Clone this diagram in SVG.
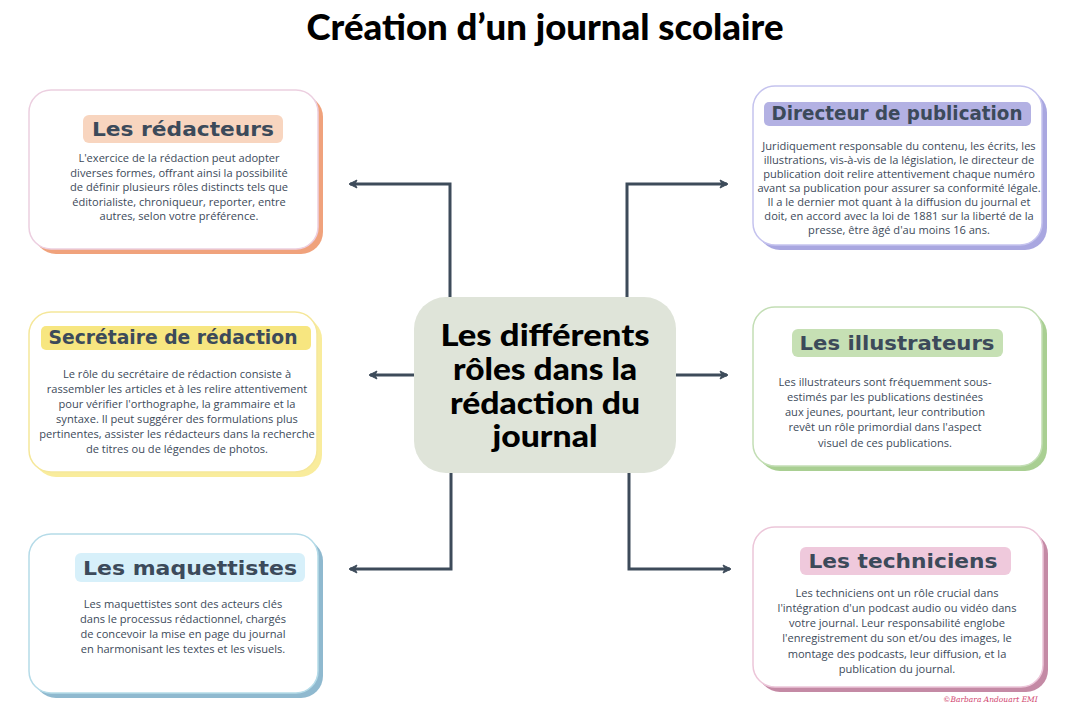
<svg xmlns="http://www.w3.org/2000/svg" width="1068" height="724" viewBox="0 0 1068 724">
<defs>
<marker id="arr" viewBox="0 0 10 10" refX="8" refY="5" markerWidth="10" markerHeight="10" markerUnits="userSpaceOnUse" orient="auto">
<path d="M1,1 L9,5 L1,9 L3,5 Z" fill="#3d4b5a" stroke="#3d4b5a" stroke-width="1" stroke-linejoin="round"/>
</marker>
<style>
.conn{fill:none;stroke:#3d4b5a;stroke-width:3;marker-end:url(#arr)}
.card{fill:#ffffff;stroke-width:1.5}
.ttl{font-family:"DejaVu Sans",sans-serif;font-weight:bold;font-size:19px;fill:#3c4a5a;text-anchor:middle}
.body{font-family:"Open Sans",sans-serif;font-size:11.1px;fill:#3c4a5a;text-anchor:middle}
.big{font-family:Lato,"Open Sans",sans-serif;font-weight:900;fill:#000;text-anchor:middle}
</style>
</defs>
<rect width="1068" height="724" fill="#ffffff"/>
<text class="big" x="545" y="40" font-size="36" textLength="477" lengthAdjust="spacingAndGlyphs">Création d’un journal scolaire</text>

<g id="connectors">
<path class="conn" d="M450,297 V184 H350"/>
<path class="conn" d="M627,297 V184 H727"/>
<path class="conn" d="M414,375 H370"/>
<path class="conn" d="M676,375 H727"/>
<path class="conn" d="M451,473 V569 H350"/>
<path class="conn" d="M629,473 V569 H730"/>
</g>

<g id="center">
<rect x="414" y="297" width="262" height="176" rx="32" fill="#dfe4d9"/>
<text class="big" font-size="30"><tspan x="545" y="346" textLength="209" lengthAdjust="spacingAndGlyphs">Les différents</tspan><tspan x="545" y="380" textLength="184" lengthAdjust="spacingAndGlyphs">rôles dans la</tspan><tspan x="545" y="414" textLength="190" lengthAdjust="spacingAndGlyphs">rédaction du</tspan><tspan x="545" y="447" textLength="105" lengthAdjust="spacingAndGlyphs">journal</tspan></text>
</g>

<g id="redacteurs">
<rect x="34" y="95" width="289" height="159" rx="22" fill="#f0a27c"/>
<rect class="card" x="29" y="90" width="289" height="159" rx="22" stroke="#eccfe0"/>
<rect x="83" y="115" width="200" height="28" rx="6" fill="#f8d5bf"/>
<text class="ttl" x="183" y="136" textLength="182" lengthAdjust="spacingAndGlyphs">Les rédacteurs</text>
<text class="body"><tspan x="179" y="162">L'exercice de la rédaction peut adopter</tspan><tspan x="179" y="176.5">diverses formes, offrant ainsi la possibilité</tspan><tspan x="179" y="191">de définir plusieurs rôles distincts tels que</tspan><tspan x="179" y="205.5">éditorialiste, chroniqueur, reporter, entre</tspan><tspan x="179" y="220">autres, selon votre préférence.</tspan></text>
</g>

<g id="directeur">
<rect x="758" y="91" width="289" height="159" rx="22" fill="#a9a7e0"/>
<rect class="card" x="753" y="86" width="289" height="159" rx="22" stroke="#c5c3ee"/>
<rect x="764" y="102" width="267" height="24" rx="5" fill="#b3b1e3"/>
<text class="ttl" x="897" y="120" font-size="18" textLength="251" lengthAdjust="spacingAndGlyphs">Directeur de publication</text>
<text class="body" font-size="10.8"><tspan x="899" y="150">Juridiquement responsable du contenu, les écrits, les</tspan><tspan x="899" y="164">illustrations, vis-à-vis de la législation, le directeur de</tspan><tspan x="899" y="178">publication doit relire attentivement chaque numéro</tspan><tspan x="899" y="192">avant sa publication pour assurer sa conformité légale.</tspan><tspan x="899" y="206">Il a le dernier mot quant à la diffusion du journal et</tspan><tspan x="899" y="220">doit, en accord avec la loi de 1881 sur la liberté de la</tspan><tspan x="899" y="234">presse, être âgé d'au moins 16 ans.</tspan></text>
</g>

<g id="secretaire">
<rect x="34" y="317" width="288" height="160" rx="22" fill="#f9ec9c"/>
<rect class="card" x="29" y="312" width="288" height="160" rx="22" stroke="#f5e79a"/>
<rect x="41" y="326" width="270" height="24" rx="5" fill="#f7e680"/>
<text class="ttl" x="173" y="344" font-size="18" textLength="249" lengthAdjust="spacingAndGlyphs">Secrétaire de rédaction</text>
<text class="body"><tspan x="177" y="378">Le rôle du secrétaire de rédaction consiste à</tspan><tspan x="177" y="393">rassembler les articles et à les relire attentivement</tspan><tspan x="177" y="408">pour vérifier l'orthographe, la grammaire et la</tspan><tspan x="177" y="423">syntaxe. Il peut suggérer des formulations plus</tspan><tspan x="177" y="438">pertinentes, assister les rédacteurs dans la recherche</tspan><tspan x="177" y="453">de titres ou de légendes de photos.</tspan></text>
</g>

<g id="illustrateurs">
<rect x="758" y="312" width="289" height="159" rx="22" fill="#a9cf92"/>
<rect class="card" x="753" y="307" width="289" height="159" rx="22" stroke="#c3deb5"/>
<rect x="792" y="329" width="211" height="28" rx="6" fill="#c6e0b4"/>
<text class="ttl" x="897" y="350" font-size="20" textLength="195" lengthAdjust="spacingAndGlyphs">Les illustrateurs</text>
<text class="body"><tspan x="885" y="386">Les illustrateurs sont fréquemment sous-</tspan><tspan x="885" y="401">estimés par les publications destinées</tspan><tspan x="885" y="416">aux jeunes, pourtant, leur contribution</tspan><tspan x="885" y="431">revêt un rôle primordial dans l'aspect</tspan><tspan x="885" y="446.5">visuel de ces publications.</tspan></text>
</g>

<g id="maquettistes">
<rect x="34" y="539" width="289" height="159" rx="22" fill="#8fb9cf"/>
<rect class="card" x="29" y="534" width="289" height="159" rx="22" stroke="#b5dbe8"/>
<rect x="75" y="553" width="230" height="29" rx="6" fill="#d7f0fa"/>
<text class="ttl" x="190" y="575" font-size="20" textLength="214" lengthAdjust="spacingAndGlyphs">Les maquettistes</text>
<text class="body"><tspan x="183" y="608">Les maquettistes sont des acteurs clés</tspan><tspan x="183" y="623">dans le processus rédactionnel, chargés</tspan><tspan x="183" y="638">de concevoir la mise en page du journal</tspan><tspan x="183" y="653">en harmonisant les textes et les visuels.</tspan></text>
</g>

<g id="techniciens">
<rect x="758" y="532" width="290" height="160" rx="22" fill="#c48aa5"/>
<rect class="card" x="753" y="527" width="290" height="160" rx="22" stroke="#ecc6d9"/>
<rect x="800" y="547" width="211" height="28" rx="6" fill="#efc9dc"/>
<text class="ttl" x="903" y="568" font-size="20" textLength="189" lengthAdjust="spacingAndGlyphs">Les techniciens</text>
<text class="body"><tspan x="897" y="597">Les techniciens ont un rôle crucial dans</tspan><tspan x="897" y="612">l'intégration d'un podcast audio ou vidéo dans</tspan><tspan x="897" y="627">votre journal. Leur responsabilité englobe</tspan><tspan x="897" y="642">l'enregistrement du son et/ou des images, le</tspan><tspan x="897" y="658">montage des podcasts, leur diffusion, et la</tspan><tspan x="897" y="673">publication du journal.</tspan></text>
</g>

<text x="943" y="702" font-family="'DejaVu Serif',serif" font-style="italic" font-size="7.5" fill="#d0456e">©Barbara Andouart EMI</text>
</svg>
